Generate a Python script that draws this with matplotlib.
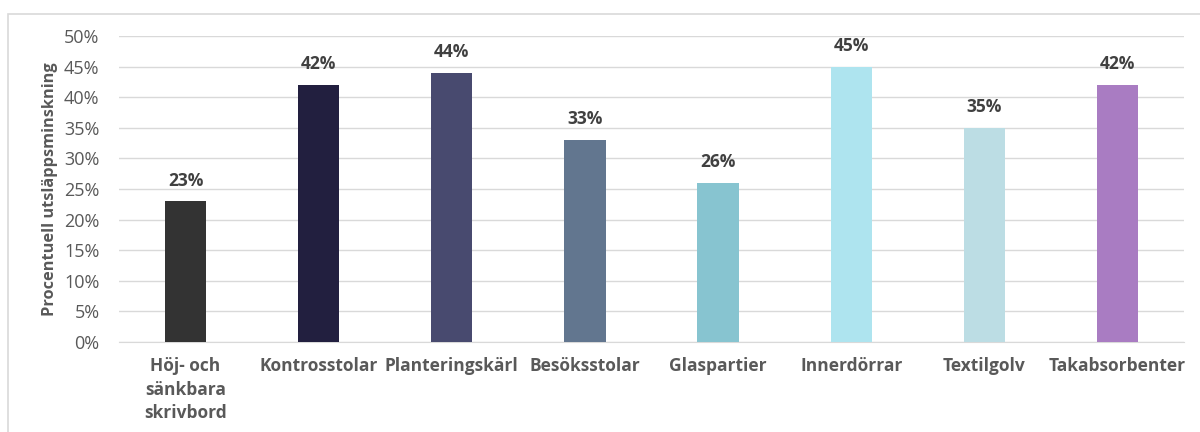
import matplotlib.pyplot as plt
from matplotlib.patches import Rectangle
import numpy as np

plt.rcParams['font.family'] = ['Open Sans', 'DejaVu Sans']

categories = ['Höj- och\nsänkbara\nskrivbord', 'Kontrosstolar', 'Planteringskärl',
              'Besöksstolar', 'Glaspartier', 'Innerdörrar', 'Textilgolv', 'Takabsorbenter']
values = [23, 42, 44, 33, 26, 45, 35, 42]
colors = ['#333333', '#221f3f', '#484a6f', '#62768f', '#87c4d0', '#aee4ef', '#bcdde4', '#a97cc2']
ytick_vals = list(range(0, 51, 5))

text_col = '#595959'

fig = plt.figure(figsize=(12, 4.32), dpi=100)
# light frame around the chart
fig.patches.append(Rectangle((8 / 1200, -0.1), 1.1, (432 - 14) / 432 + 0.1,
                             transform=fig.transFigure, fill=False,
                             edgecolor='#d9d9d9', linewidth=1.2))

ax = fig.add_axes([119 / 1200, 1 - 342 / 432, (1184 - 119) / 1200, (342 - 36) / 432])

x = np.arange(len(categories))
ax.bar(x, values, width=0.31, color=colors, zorder=3)
for xi, v in zip(x, values):
    ax.text(xi, v + 1.9, f'{v}%', ha='center', va='bottom', fontsize=12.5,
            fontweight='bold', color='#404040')

ax.set_xlim(-0.5, len(categories) - 0.5)
ax.set_ylim(0, 50)
ax.set_yticks(ytick_vals)
ax.set_yticklabels([f'{t}%' for t in ytick_vals], fontsize=13, color=text_col)
ax.set_xticks(x)
ax.set_xticklabels(categories, fontsize=12.5, fontweight='bold', color=text_col,
                   linespacing=1.4, va='top')
ax.tick_params(axis='both', length=0)
ax.tick_params(axis='x', pad=11)
ax.tick_params(axis='y', pad=14)
ax.grid(axis='y', color='#d9d9d9', linewidth=1, zorder=0)
for s in ['top', 'right', 'left']:
    ax.spines[s].set_visible(False)
ax.spines['bottom'].set_color('#d9d9d9')

ax.set_ylabel('Procentuell utsläppsminskning', fontsize=11.8, fontweight='bold',
              color=text_col, labelpad=4)

fig.savefig('out.png', dpi=100)
